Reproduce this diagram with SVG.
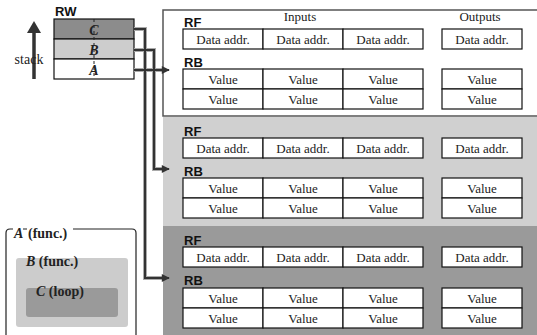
<svg xmlns="http://www.w3.org/2000/svg" width="537" height="335" viewBox="0 0 537 335">
<defs>
<style>
.cell{fill:#fff;stroke:#111;stroke-width:1.2}
.t{font-family:'Liberation Serif','DejaVu Serif',serif;font-size:13px;fill:#222;text-anchor:middle}
.lbl{font-family:'Liberation Sans','DejaVu Sans',sans-serif;font-size:13px;font-weight:bold;fill:#111}
.bi{font-family:'Liberation Serif','DejaVu Serif',serif;font-size:14px;font-weight:bold;font-style:italic;fill:#222}
.bs{font-family:'Liberation Serif','DejaVu Serif',serif;font-size:14px;font-weight:bold;fill:#222}
.st{font-family:'Liberation Serif','DejaVu Serif',serif;font-size:14px;fill:#222;text-anchor:middle}
.halo{fill:none;stroke:#aaa;stroke-width:4}
.con{fill:none;stroke:#333;stroke-width:2}
</style>
<marker id="ah2" viewBox="0 0 10 10" refX="9" refY="5" markerWidth="9" markerHeight="8" orient="auto" markerUnits="userSpaceOnUse">
<path d="M0,0 L10,5 L0,10 z" fill="#333"/>
</marker>
<g id="rowtpl">
<rect class="cell" x="183" y="0" width="80" height="20"/>
<rect class="cell" x="263" y="0" width="80" height="20"/>
<rect class="cell" x="343" y="0" width="80" height="20"/>
<rect class="cell" x="442" y="0" width="80" height="20"/>
</g>
</defs>

<g id="panel1">
<rect x="163" y="10" width="380" height="106" fill="#fff" stroke="#555" stroke-width="1.5"/>
<text class="t" x="300" y="21">Inputs</text>
<text class="t" x="480" y="21">Outputs</text>
<text class="lbl" x="184" y="27">RF</text>
<use href="#rowtpl" y="29"/>
<text class="t" x="223" y="43.5">Data addr.</text><text class="t" x="303" y="43.5">Data addr.</text><text class="t" x="383" y="43.5">Data addr.</text><text class="t" x="482" y="43.5">Data addr.</text>
<text class="lbl" x="184" y="67">RB</text>
<use href="#rowtpl" y="69"/>
<use href="#rowtpl" y="89"/>
<text class="t" x="223" y="83.5">Value</text><text class="t" x="303" y="83.5">Value</text><text class="t" x="383" y="83.5">Value</text><text class="t" x="482" y="83.5">Value</text>
<text class="t" x="223" y="103.5">Value</text><text class="t" x="303" y="103.5">Value</text><text class="t" x="383" y="103.5">Value</text><text class="t" x="482" y="103.5">Value</text>
</g>

<g id="panel2">
<rect x="163" y="117" width="374" height="109" fill="#d0d0d0"/>
<text class="lbl" x="184" y="136">RF</text>
<use href="#rowtpl" y="138"/>
<text class="t" x="223" y="152.5">Data addr.</text><text class="t" x="303" y="152.5">Data addr.</text><text class="t" x="383" y="152.5">Data addr.</text><text class="t" x="482" y="152.5">Data addr.</text>
<text class="lbl" x="184" y="176">RB</text>
<use href="#rowtpl" y="178"/>
<use href="#rowtpl" y="198"/>
<text class="t" x="223" y="192.5">Value</text><text class="t" x="303" y="192.5">Value</text><text class="t" x="383" y="192.5">Value</text><text class="t" x="482" y="192.5">Value</text>
<text class="t" x="223" y="212.5">Value</text><text class="t" x="303" y="212.5">Value</text><text class="t" x="383" y="212.5">Value</text><text class="t" x="482" y="212.5">Value</text>
</g>

<g id="panel3">
<rect x="163" y="226" width="374" height="109" fill="#9a9a9a"/>
<text class="lbl" x="184" y="245">RF</text>
<use href="#rowtpl" y="247"/>
<text class="t" x="223" y="261.5">Data addr.</text><text class="t" x="303" y="261.5">Data addr.</text><text class="t" x="383" y="261.5">Data addr.</text><text class="t" x="482" y="261.5">Data addr.</text>
<text class="lbl" x="184" y="285">RB</text>
<use href="#rowtpl" y="288"/>
<use href="#rowtpl" y="308"/>
<text class="t" x="223" y="302.5">Value</text><text class="t" x="303" y="302.5">Value</text><text class="t" x="383" y="302.5">Value</text><text class="t" x="482" y="302.5">Value</text>
<text class="t" x="223" y="322.5">Value</text><text class="t" x="303" y="322.5">Value</text><text class="t" x="383" y="322.5">Value</text><text class="t" x="482" y="322.5">Value</text>
</g>

<g id="stack">
<line x1="34" y1="79" x2="34" y2="30" stroke="#333" stroke-width="3.5"/>
<path d="M34,21 L41,33 L27,33 z" fill="#333"/>
<text class="st" x="29" y="64">stack</text>
</g>

<g id="rw">
<text class="lbl" x="55" y="16">RW</text>
<rect x="54" y="19" width="80" height="20" fill="#8c8c8c" stroke="#111" stroke-width="1.2"/>
<rect x="54" y="39" width="80" height="20" fill="#cdcdcd" stroke="#111" stroke-width="1.2"/>
<rect x="54" y="59" width="80" height="20" fill="#fff" stroke="#111" stroke-width="1.2"/>
<line x1="94" y1="19" x2="94" y2="79" stroke="#222" stroke-width="1" stroke-dasharray="3,3"/>
<text class="bi" x="94" y="35" text-anchor="middle">C</text>
<text class="bi" x="94" y="55" text-anchor="middle">B</text>
<text class="bi" x="94" y="75" text-anchor="middle">A</text>
</g>

<g id="connectors">
<path class="halo" d="M134,29 H145 V278 H162"/>
<path class="halo" d="M134,50 H154 V169 H162"/>
<path class="halo" d="M134,70 H162"/>
<path class="con" d="M134,29 H145 V278 H169" marker-end="url(#ah2)"/>
<path class="con" d="M134,50 H154 V169 H169" marker-end="url(#ah2)"/>
<path class="con" d="M134,70 H169" marker-end="url(#ah2)"/>
</g>

<g id="scopeA">
<path d="M6,340 V233 Q6,229 10,229 H132 Q136,229 136,233 V340" fill="#fff" stroke="#222" stroke-width="1.2"/>
<rect x="13" y="226" width="10" height="6" fill="#fff"/>
<rect x="27" y="226" width="46" height="6" fill="#fff"/>
<text class="bs" x="14" y="238" font-style="italic">A</text>
<text class="bs" x="28" y="238">(func.)</text>
</g>
<g id="scopeB">
<rect x="16" y="258" width="112" height="69" rx="3" fill="#cccccc"/>
<text class="bs" x="26" y="266"><tspan font-style="italic">B</tspan> (func.)</text>
</g>
<g id="scopeC">
<rect x="26" y="288" width="92" height="29" rx="3" fill="#9a9a9a"/>
<text class="bs" x="36" y="296"><tspan font-style="italic">C</tspan> (loop)</text>
</g>
</svg>
